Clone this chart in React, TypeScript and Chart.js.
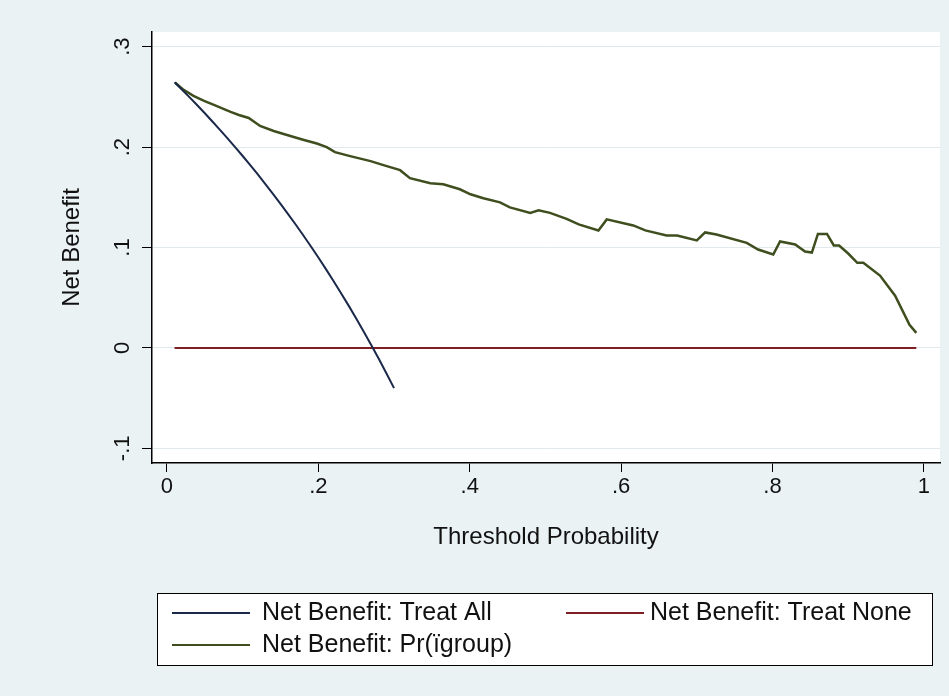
import React, { useEffect, useRef } from "react";
import { Chart, registerables } from "chart.js";

Chart.register(...registerables);

// ---- Data ----
const seriesLabels = [
  "Net Benefit: Treat All",
  "Net Benefit: Treat None",
  "Net Benefit: Pr(ïgroup)",
];

const treatAllX = [
  0.01, 0.02, 0.03, 0.04, 0.05, 0.06, 0.07, 0.08, 0.09, 0.1,
  0.11, 0.12, 0.13, 0.14, 0.15, 0.16, 0.17, 0.18, 0.19, 0.2,
  0.21, 0.22, 0.23, 0.24, 0.25, 0.26, 0.27, 0.28, 0.29, 0.3,
];
const treatAllY = [
  0.2646, 0.2571, 0.2495, 0.2417, 0.2337, 0.2255, 0.2172, 0.2087, 0.2, 0.1911,
  0.182, 0.1727, 0.1632, 0.1535, 0.1435, 0.1333, 0.1229, 0.1122, 0.1012, 0.09,
  0.0785, 0.0667, 0.0545, 0.0421, 0.0293, 0.0162, 0.0027, -0.0111, -0.0254, -0.04,
];

const treatNoneX = [0.01, 0.99];
const treatNoneY = [0, 0];

const modelX = [
  0.011, 0.022, 0.035, 0.049, 0.062, 0.084, 0.095, 0.108, 0.123, 0.141,
  0.163, 0.181, 0.198, 0.211, 0.222, 0.242, 0.269, 0.286, 0.308, 0.321,
  0.348, 0.365, 0.387, 0.401, 0.418, 0.44, 0.453, 0.48, 0.491, 0.506,
  0.528, 0.544, 0.57, 0.581, 0.616, 0.632, 0.66, 0.674, 0.7, 0.711,
  0.726, 0.766, 0.781, 0.801, 0.81, 0.83, 0.843, 0.852, 0.86, 0.872,
  0.881, 0.888, 0.9, 0.912, 0.92, 0.942, 0.962, 0.981, 0.99,
];
const modelY = [
  0.264, 0.257, 0.251, 0.246, 0.242, 0.235, 0.232, 0.229, 0.221, 0.216,
  0.211, 0.207, 0.2035, 0.2, 0.195, 0.191, 0.186, 0.182, 0.177, 0.169,
  0.164, 0.163, 0.158, 0.153, 0.149, 0.145, 0.14, 0.1345, 0.137, 0.1345,
  0.1285, 0.123, 0.117, 0.128, 0.122, 0.117, 0.112, 0.112, 0.107, 0.115,
  0.113, 0.1046, 0.098, 0.093, 0.106, 0.103, 0.096, 0.095, 0.1135, 0.1135,
  0.102, 0.102, 0.094, 0.0847, 0.0847, 0.072, 0.052, 0.023, 0.015,
];

const xTicks = [0, 0.2, 0.4, 0.6, 0.8, 1];
const xTickLabels = ["0", ".2", ".4", ".6", ".8", "1"];
const yTicks = [-0.1, 0, 0.1, 0.2, 0.3];
const yTickLabels = ["-.1", "0", ".1", ".2", ".3"];

const xTitle = "Threshold Probability";
const yTitle = "Net Benefit";

// ---- Styles ----
const FONT = "'Liberation Sans', Arial, Helvetica, sans-serif";
const COLORS = ["#1a2849", "#7d1f24", "#3f4e1e"];
const BG = "#eaf2f3";

const toPoints = (xs: number[], ys: number[]) => xs.map((x, i) => ({ x, y: ys[i] }));

const backgroundPlugin = {
  id: "stataBackground",
  beforeDraw(chart: any) {
    const { ctx, chartArea } = chart;
    ctx.save();
    ctx.fillStyle = BG;
    ctx.fillRect(0, 0, chart.width, chart.height);
    ctx.fillStyle = "#ffffff";
    ctx.fillRect(chartArea.left, chartArea.top, chartArea.right - chartArea.left, chartArea.bottom - chartArea.top);
    ctx.restore();
  },
};

const legendPlugin = {
  id: "stataLegend",
  afterDraw(chart: any) {
    const ctx = chart.ctx;
    const boxL = 157.5, boxT = 593.5, boxW = 775, boxH = 72;
    ctx.save();
    ctx.fillStyle = "#ffffff";
    ctx.fillRect(boxL, boxT, boxW, boxH);
    ctx.strokeStyle = "#000000";
    ctx.lineWidth = 1;
    ctx.strokeRect(boxL, boxT, boxW, boxH);
    const slots = [
      { lx: 172, ty: 613, tx: 262 },
      { lx: 566, ty: 613, tx: 650 },
      { lx: 172, ty: 645, tx: 262 },
    ];
    ctx.font = `25px ${FONT}`;
    ctx.textBaseline = "middle";
    ctx.textAlign = "left";
    chart.data.datasets.forEach((ds: any, i: number) => {
      const s = slots[i];
      if (!s) return;
      ctx.strokeStyle = ds.borderColor;
      ctx.lineWidth = 2;
      ctx.beginPath();
      ctx.moveTo(s.lx, s.ty);
      ctx.lineTo(s.lx + 78, s.ty);
      ctx.stroke();
      ctx.fillStyle = "#111111";
      ctx.fillText(ds.label, s.tx, s.ty);
    });
    ctx.restore();
  },
};

export default function App() {
  const canvasRef = useRef<HTMLCanvasElement | null>(null);

  useEffect(() => {
    const canvas = canvasRef.current;
    if (!canvas) return;
    const chart = new Chart(canvas, {
      type: "scatter",
      data: {
        datasets: [
          {
            label: seriesLabels[0],
            data: toPoints(treatAllX, treatAllY),
            borderColor: COLORS[0],
            backgroundColor: COLORS[0],
            borderWidth: 2,
            showLine: true,
            pointRadius: 0,
            tension: 0,
          },
          {
            label: seriesLabels[1],
            data: toPoints(treatNoneX, treatNoneY),
            borderColor: COLORS[1],
            backgroundColor: COLORS[1],
            borderWidth: 2,
            showLine: true,
            pointRadius: 0,
          },
          {
            label: seriesLabels[2],
            data: toPoints(modelX, modelY),
            borderColor: COLORS[2],
            backgroundColor: COLORS[2],
            borderWidth: 2.5,
            showLine: true,
            pointRadius: 0,
            tension: 0,
          },
        ],
      },
      options: {
        responsive: false,
        animation: false,
        devicePixelRatio: 1,
        layout: { padding: { left: 0, top: 32, right: 9, bottom: 133 } },
        plugins: {
          legend: { display: false },
          tooltip: { enabled: false },
          title: { display: false },
        },
        scales: {
          x: {
            type: "linear",
            min: -0.0198,
            max: 1.0213,
            afterBuildTicks: (scale: any) => {
              scale.ticks = xTicks.map((v) => ({ value: v }));
            },
            afterFit: (scale: any) => {
              scale.height = 100;
            },
            grid: {
              drawOnChartArea: false,
              drawTicks: true,
              tickLength: 9,
              tickColor: "#000000",
              tickWidth: 1,
            },
            border: { display: true, color: "#000000", width: 1.5 },
            ticks: {
              autoSkip: false,
              maxRotation: 0,
              minRotation: 0,
              padding: 2,
              color: "#111111",
              font: { family: FONT, size: 22 },
              callback: (_v: any, i: number) => xTickLabels[i],
            },
            title: {
              display: true,
              text: xTitle,
              color: "#111111",
              font: { family: FONT, size: 24 },
              padding: { top: 0, bottom: 11 },
            },
          },
          y: {
            type: "linear",
            min: -0.1146,
            max: 0.3146,
            afterBuildTicks: (scale: any) => {
              scale.ticks = yTicks.map((v) => ({ value: v }));
            },
            afterFit: (scale: any) => {
              scale.width = 152;
            },
            grid: {
              color: "#e2e9ed",
              lineWidth: 1,
              drawTicks: true,
              tickLength: 10,
              tickColor: "#000000",
              tickWidth: 1,
            },
            border: { display: true, color: "#000000", width: 1.5 },
            ticks: {
              autoSkip: false,
              minRotation: 90,
              maxRotation: 90,
              crossAlign: "center",
              padding: 6,
              color: "#111111",
              font: { family: FONT, size: 22 },
              callback: (_v: any, i: number) => yTickLabels[i],
            },
            title: {
              display: true,
              text: yTitle,
              color: "#111111",
              font: { family: FONT, size: 24 },
              padding: { top: 58, bottom: 0 },
            },
          },
        },
      },
      plugins: [backgroundPlugin, legendPlugin],
    } as any);
    return () => chart.destroy();
  }, []);

  return (
    <div style={{ position: "fixed", left: 0, top: 0, width: 949, height: 696, background: BG }}>
      <canvas ref={canvasRef} width={949} height={696} style={{ display: "block", width: 949, height: 696 }} />
    </div>
  );
}
